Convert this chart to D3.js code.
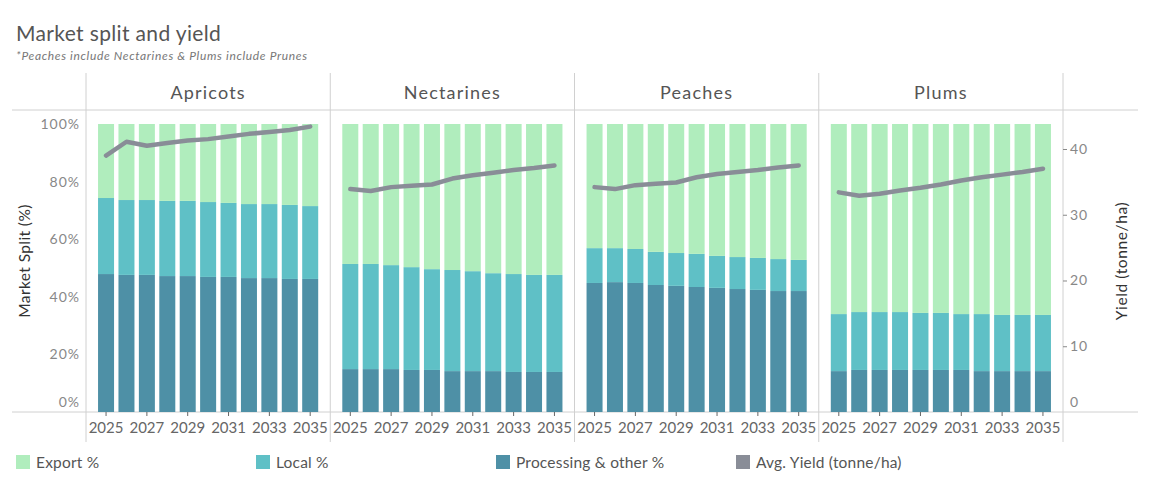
<!DOCTYPE html>
<html>
<head>
<meta charset="utf-8">
<script src="https://cdn.jsdelivr.net/npm/d3@7"></script>
<style>
    body { margin:0; background:#fff; }
    text { font-family: Lato, "Open Sans", sans-serif; }
</style>
</head>
<body>
<svg id="chart" width="1150" height="500"></svg>
<script>
// Données
const fruits = ['Apricots', 'Nectarines', 'Peaches', 'Plums'];
const years = [2025, 2026, 2027, 2028, 2029, 2030, 2031, 2032, 2033, 2034, 2035];
const tickYears = [2025, 2027, 2029, 2031, 2033, 2035];

// Processing & other % (bas de la pile)
const processing = {
    Apricots:   [47.9, 47.6, 47.6, 47.2, 47.2, 46.9, 46.9, 46.5, 46.5, 46.2, 46.2],
    Nectarines: [14.9, 14.9, 14.9, 14.6, 14.6, 14.2, 14.2, 14.2, 13.9, 13.9, 13.9],
    Peaches:    [44.8, 45.1, 44.8, 44.1, 43.8, 43.4, 43.1, 42.7, 42.4, 42.0, 42.0],
    Plums:      [14.2, 14.6, 14.6, 14.6, 14.6, 14.6, 14.6, 14.2, 14.2, 14.2, 14.2]
};
// Local %
const local = {
    Apricots:   [26.4, 26.0, 26.0, 26.1, 26.1, 26.0, 25.7, 25.7, 25.7, 25.7, 25.3],
    Nectarines: [36.5, 36.5, 36.1, 35.7, 35.0, 35.1, 34.7, 34.0, 34.0, 33.7, 33.7],
    Peaches:    [12.1, 11.8, 11.8, 11.5, 11.4, 11.5, 11.1, 11.1, 11.1, 11.1, 10.8],
    Plums:      [19.8, 20.1, 20.1, 20.1, 19.8, 19.8, 19.4, 19.8, 19.5, 19.5, 19.5]
};
// Avg. Yield (tonne/ha)
const yieldAvg = {
    Apricots:   [39.0, 41.1, 40.5, 40.9, 41.3, 41.5, 41.9, 42.3, 42.6, 42.9, 43.4],
    Nectarines: [33.9, 33.6, 34.2, 34.4, 34.6, 35.5, 36.0, 36.4, 36.8, 37.1, 37.5],
    Peaches:    [34.2, 33.9, 34.5, 34.7, 34.9, 35.7, 36.2, 36.5, 36.8, 37.2, 37.5],
    Plums:      [33.4, 32.9, 33.2, 33.7, 34.1, 34.6, 35.2, 35.7, 36.1, 36.5, 37.0]
};
const series = ['Processing & other %', 'Local %', 'Export %'];
const legendLabels = ['Export %', 'Local %', 'Processing & other %', 'Avg. Yield (tonne/ha)'];
const pctTicks = [0, 20, 40, 60, 80, 100];
const yieldTicks = [0, 10, 20, 30, 40];

const colors = {
    'Export %': '#b0edbd',
    'Local %': '#5fc0c6',
    'Processing & other %': '#4e90a6',
    'Avg. Yield (tonne/ha)': '#898d97'
};

const svg = d3.select('#chart');
const plotLeft = 86, plotRight = 1063, plotTop = 124, plotBottom = 412;
const panelW = (plotRight - plotLeft) / fruits.length;
const grid = '#d0d0d0';

// Titre
svg.append('text').attr('x', 16).attr('y', 41)
    .attr('font-size', 21).attr('letter-spacing', 0.35).attr('fill', '#555').text('Market split and yield');
svg.append('text').attr('x', 16).attr('y', 60)
    .attr('font-size', 12).attr('letter-spacing', 0.65).attr('font-style', 'italic').attr('fill', '#777')
    .text('*Peaches include Nectarines & Plums include Prunes');

// Echelles
const yPct = d3.scaleLinear().domain([0, 100]).range([plotBottom, plotTop]);
const yYield = d3.scaleLinear().domain([0, 43.8]).range([plotBottom, plotTop]);

// Lignes de grille du tableau
svg.append('line').attr('x1', 12).attr('x2', 1138).attr('y1', 110).attr('y2', 110).attr('stroke', grid);
svg.append('line').attr('x1', 12).attr('x2', 1138).attr('y1', plotBottom).attr('y2', plotBottom).attr('stroke', grid);
d3.range(fruits.length + 1).forEach(i => {
    svg.append('line')
        .attr('x1', plotLeft + i * panelW).attr('x2', plotLeft + i * panelW)
        .attr('y1', 73).attr('y2', 442).attr('stroke', grid);
});

// Panneaux
fruits.forEach((fruit, i) => {
    const x0 = plotLeft + i * panelW;
    const x = d3.scaleBand().domain(years).range([x0, x0 + panelW])
        .paddingInner(0.216).paddingOuter(0.59);
    const g = svg.append('g').attr('class', 'panel');

    svg.append('text').attr('x', x0 + panelW / 2).attr('y', 92)
        .attr('text-anchor', 'middle').attr('dominant-baseline', 'central')
        .attr('font-size', 18).attr('letter-spacing', 1.2).attr('fill', '#555').text(fruit);

    // Pile
    const rows = years.map((yr, j) => ({
        year: yr,
        'Processing & other %': processing[fruit][j],
        'Local %': local[fruit][j],
        'Export %': 100 - processing[fruit][j] - local[fruit][j]
    }));
    const stacked = d3.stack().keys(series)(rows);
    g.selectAll('g.layer').data(stacked).enter()
        .append('g').attr('class', 'layer').attr('fill', d => colors[d.key])
        .selectAll('rect').data(d => d).enter()
        .append('rect')
            .attr('x', d => x(d.data.year))
            .attr('width', x.bandwidth())
            .attr('y', d => yPct(d[1]))
            .attr('height', d => yPct(d[0]) - yPct(d[1]));

    // Rendement
    const line = d3.line()
        .x((d, j) => x(years[j]) + x.bandwidth() / 2)
        .y(d => yYield(d));
    g.append('path').datum(yieldAvg[fruit])
        .attr('fill', 'none').attr('stroke', colors['Avg. Yield (tonne/ha)'])
        .attr('stroke-width', 4.5).attr('stroke-linecap', 'round').attr('stroke-linejoin', 'round')
        .attr('d', line);

    // Axe des années
    const ax = svg.append('g').attr('transform', `translate(0,${plotBottom})`)
        .call(d3.axisBottom(x).tickValues(tickYears).tickSize(4).tickSizeOuter(0));
    ax.select('.domain').remove();
    ax.selectAll('line').attr('stroke', '#666');
    ax.selectAll('text').attr('font-size', 15).attr('fill', '#666')
        .attr('font-family', 'Lato, sans-serif').attr('dy', '0.95em');
});

// Axe gauche
const axL = svg.append('g').attr('transform', `translate(${plotLeft},0)`)
    .call(d3.axisLeft(yPct).tickValues(pctTicks).tickSize(0).tickPadding(6).tickFormat(d => d + '%'));
axL.select('.domain').remove();
axL.selectAll('text').attr('font-size', 14).attr('letter-spacing', 1).attr('fill', '#888')
    .attr('font-family', 'Lato, sans-serif')
    .attr('dy', d => d === 0 ? '-0.4em' : '0.32em');

// Axe droit
const axR = svg.append('g').attr('transform', `translate(${plotRight},0)`)
    .call(d3.axisRight(yYield).tickValues(yieldTicks).tickSize(4).tickPadding(3));
axR.select('.domain').remove();
axR.selectAll('line').attr('stroke', '#888');
axR.selectAll('text').attr('font-size', 14).attr('letter-spacing', 1).attr('fill', '#888')
    .attr('font-family', 'Lato, sans-serif')
    .attr('dy', d => d === 0 ? '-0.4em' : '0.32em');
axR.selectAll('.tick').filter(d => d === 0).select('line').remove();

// Titres d'axes
svg.append('text').attr('transform', 'translate(24,261) rotate(-90)')
    .attr('text-anchor', 'middle').attr('dominant-baseline', 'central')
    .attr('font-size', 15.5).attr('letter-spacing', 0.4).attr('fill', '#333').text('Market Split (%)');
svg.append('text').attr('transform', 'translate(1121,261) rotate(-90)')
    .attr('text-anchor', 'middle').attr('dominant-baseline', 'central')
    .attr('font-size', 15.5).attr('letter-spacing', 0.6).attr('fill', '#333').text('Yield (tonne/ha)');

// Légende
const legend = svg.append('g').selectAll('g').data(legendLabels).enter()
    .append('g').attr('transform', (d, i) => `translate(${16 + i * 240},455)`);
legend.append('rect').attr('width', 14).attr('height', 14).attr('fill', d => colors[d]);
legend.append('text').attr('x', 20).attr('y', 7).attr('dominant-baseline', 'central')
    .attr('font-size', 15.5).attr('letter-spacing', 0.2).attr('fill', '#555').text(d => d);
</script>
</body>
</html>
